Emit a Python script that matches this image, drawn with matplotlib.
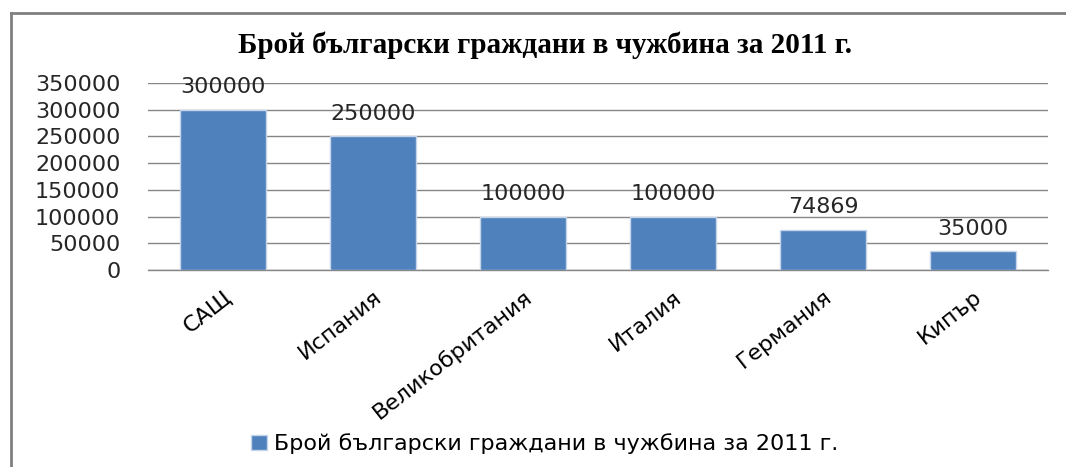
import matplotlib.pyplot as plt
from matplotlib.lines import Line2D

countries = ["САЩ", "Испания", "Великобритания", "Италия", "Германия", "Кипър"]
citizens = [300000, 250000, 100000, 100000, 74869, 35000]
yticks = [0, 50000, 100000, 150000, 200000, 250000, 300000, 350000]
title = "Брой български граждани в чужбина за 2011 г."

fig = plt.figure(figsize=(10.66, 4.67), dpi=100)
ax = fig.add_axes([0.139, 0.422, 0.844, 0.400])

x = range(len(countries))
bars = ax.bar(x, citizens, width=0.57, color="#4f81bd", edgecolor="#c6d5ea",
              linewidth=1, label=title, zorder=3)

for b, v in zip(bars, citizens):
    ax.annotate(str(v), (b.get_x() + b.get_width() / 2, v), xytext=(0, 9),
                textcoords="offset points", ha="center", va="bottom",
                fontsize=16, color="#262626", zorder=4)

ax.set_xlim(-0.5, len(countries) - 0.5)
ax.set_ylim(0, 350000)
ax.set_yticks(yticks)
ax.set_yticklabels([str(t) for t in yticks], fontsize=16, color="#262626")
ax.set_xticks(list(x))
ax.set_xticklabels(countries, rotation=38, ha="right", va="top",
                   rotation_mode="anchor", fontsize=16, color="#000000")
ax.tick_params(axis="y", length=0, pad=20)
ax.tick_params(axis="x", length=0, pad=12)
ax.grid(axis="y", color="#868686", linewidth=1, zorder=0)
ax.axhline(0, color="#868686", linewidth=1, zorder=2, clip_on=False)
for s in ax.spines.values():
    s.set_visible(False)

fig.text(0.511, 0.903, title, ha="center", va="center", fontsize=21,
         fontweight="bold", family="Liberation Serif")

fig.legend(loc="center", bbox_to_anchor=(0.511, 0.05), frameon=False,
           fontsize=16, handlelength=0.7, handleheight=0.7, handletextpad=0.3)

# outer chart frame
fig.add_artist(Line2D([0.0103, 0.0103], [0, 0.972], color="#808080", linewidth=2,
                      transform=fig.transFigure))
fig.add_artist(Line2D([0.0103, 1], [0.972, 0.972], color="#808080", linewidth=2,
                      transform=fig.transFigure))

fig.savefig("out.png", dpi=100)
